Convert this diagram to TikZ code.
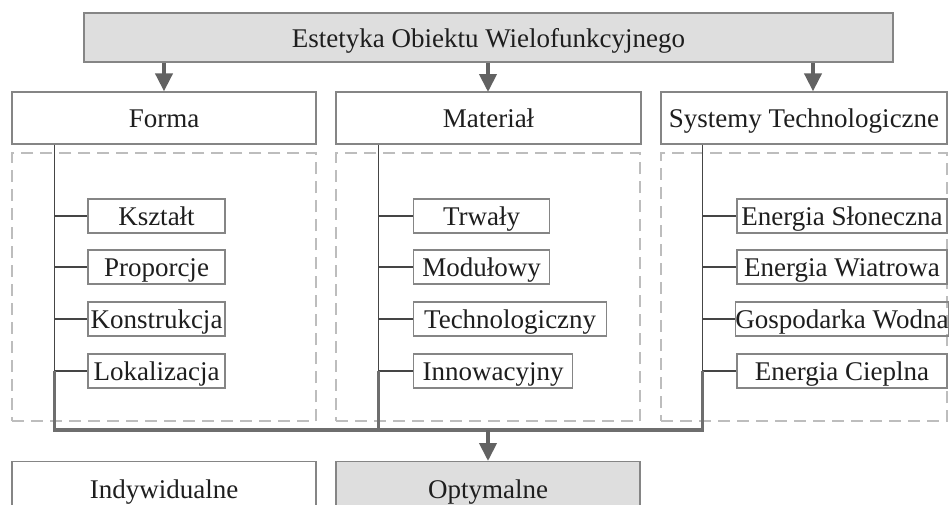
\documentclass[tikz,border=0pt]{standalone}
\usepackage{fontspec}
\setmainfont{Liberation Serif}
\usetikzlibrary{arrows.meta}
\definecolor{boxline}{HTML}{858585}
\definecolor{gfill}{HTML}{DEDEDE}
\definecolor{txt}{HTML}{1E1E1E}
\definecolor{lnk}{HTML}{454545}
\definecolor{thk}{HTML}{6E6E6E}
\definecolor{dsh}{HTML}{BDBDBD}
\definecolor{arr}{HTML}{626262}
\newcommand{\fsz}{\fontsize{27}{30}\selectfont}
\tikzset{
  bigbox/.style={draw=boxline, line width=1.3pt, rectangle, inner sep=0pt,
    text=txt, font=\fsz, text height=19pt, text depth=0pt, minimum height=52pt},
  itembox/.style={bigbox, minimum height=34pt},
  groupbox/.style={draw=dsh, line width=1.2pt, dash pattern=on 12pt off 7pt,
    rectangle, inner sep=0pt, minimum height=268pt},
  flow/.style={draw=arr, line width=4pt, -{Triangle[width=17pt,length=18pt]}},
  linkline/.style={draw=lnk, line width=1.7pt},
  busline/.style={draw=thk, line width=3.4pt, line join=miter}
}
\begin{document}
\begin{tikzpicture}[x=1pt,y=-1pt]
\useasboundingbox (0,0) rectangle (950,504);
\clip (0,0) rectangle (950,504);
\fill[white] (0,0) rectangle (950,504);

% top
\node[bigbox, fill=gfill, minimum width=809pt, minimum height=49pt] (top) at (488.5,37.5) {Estetyka Obiektu Wielofunkcyjnego};

% second row
\node[bigbox, minimum width=304pt] (forma) at (164,118) {Forma};
\node[bigbox, minimum width=305pt] (mat) at (488.5,118) {Materiał};
\node[bigbox, minimum width=286pt] (sys) at (804,118) {Systemy Technologiczne};

% group frames
\node[groupbox, minimum width=304pt] (g1) at (164,287) {};
\node[groupbox, minimum width=304pt] (g2) at (488,287) {};
\node[groupbox, minimum width=286pt] (g3) at (804,287) {};

% arrows from top
\draw[flow] (top.south -| forma.north) -- (forma.north);
\coordinate (a2) at (488,92);
\draw[flow] (top.south -| a2) -- (a2);
\coordinate (a3) at ([xshift=9pt]sys.north);
\draw[flow] (top.south -| a3) -- (a3);

% items Forma
\node[itembox, minimum width=137pt] (f1) at (156.5,216) {Kształt};
\node[itembox, minimum width=137pt] (f2) at (156.5,267) {Proporcje};
\node[itembox, minimum width=137pt] (f3) at (156.5,319) {Konstrukcja};
\node[itembox, minimum width=137pt] (f4) at (156.5,371) {Lokalizacja};

% items Material
\node[itembox, minimum width=136pt, anchor=west] (m1) at (413,216) {Trwały};
\node[itembox, minimum width=136pt, anchor=west] (m2) at (413,267) {Modułowy};
\node[itembox, minimum width=193pt, anchor=west] (m3) at (413,319) {Technologiczny};
\node[itembox, minimum width=159pt, anchor=west] (m4) at (413,371) {Innowacyjny};

% items Systemy
\node[itembox, minimum width=210pt] (s1) at (842,216) {Energia Słoneczna};
\node[itembox, minimum width=210pt] (s2) at (842,267) {Energia Wiatrowa};
\node[itembox, minimum width=210pt] (s3) at (842,319) {Gospodarka Wodna};
\node[itembox, minimum width=210pt] (s4) at (842,371) {Energia Cieplna};

% vertical spines
\coordinate (v1) at ([xshift=43pt]forma.south west);
\coordinate (v2) at ([xshift=43pt]mat.south west);
\coordinate (v3) at ([xshift=42pt]sys.south west);
\draw[linkline] (v1) -- (v1 |- f4.west);
\draw[linkline] (v2) -- (v2 |- m4.west);
\draw[linkline] (v3) -- (v3 |- s4.west);
\foreach \n in {f1,f2,f3,f4} \draw[linkline] (v1 |- \n.west) -- (\n.west);
\foreach \n in {m1,m2,m3,m4} \draw[linkline] (v2 |- \n.west) -- (\n.west);
\foreach \n in {s1,s2,s3,s4} \draw[linkline] (v3 |- \n.west) -- (\n.west);

% bus
\coordinate (bus) at (488,430);
\draw[busline] (v1 |- f4.west) |- (v3 |- bus) -- (v3 |- s4.west);
\draw[busline] (v2 |- m4.west) -- (v2 |- bus);

% bottom row
\node[bigbox, minimum width=304pt, minimum height=54pt, anchor=north] (ind) at (164,461) {Indywidualne};
\node[bigbox, fill=gfill, minimum width=304pt, minimum height=54pt, anchor=north] (opt) at (488,461) {Optymalne};
\draw[flow] (bus) -- (opt.north);
\end{tikzpicture}
\end{document}
